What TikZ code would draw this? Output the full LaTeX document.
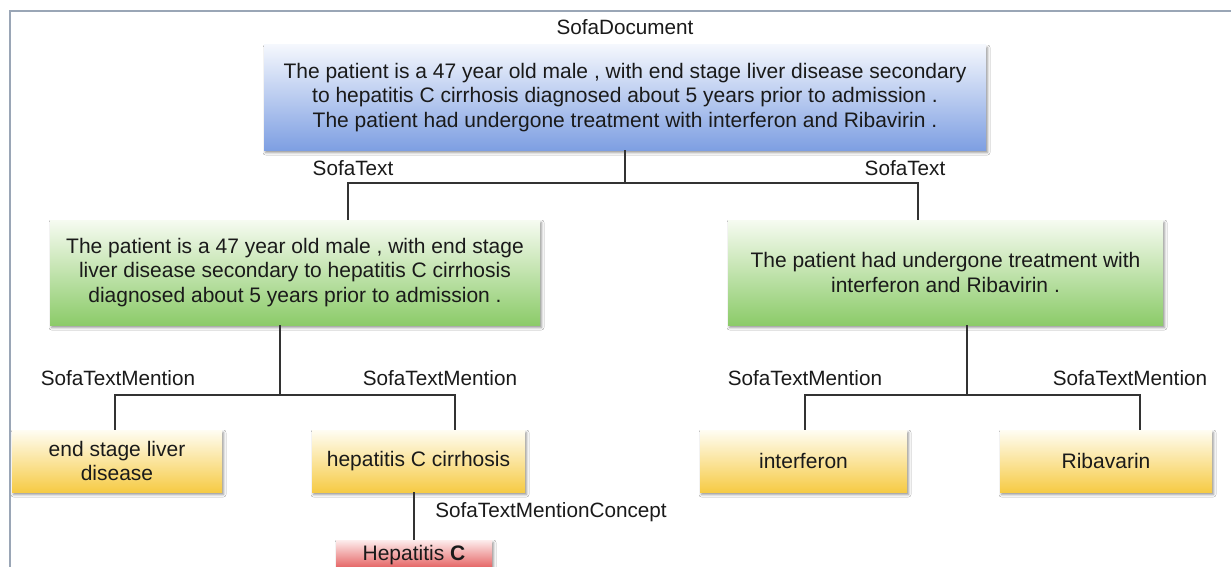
\documentclass[tikz,border=0pt]{standalone}
\usepackage{fontspec}
\setmainfont{Liberation Sans}
\usetikzlibrary{shadows.blur}

\definecolor{txt}{HTML}{1A1A1A}
\definecolor{linec}{HTML}{333333}
\definecolor{framec}{HTML}{9AA6B6}
\definecolor{blueT}{HTML}{F4F7FD}
\definecolor{blueM}{HTML}{A9C2EF}
\definecolor{blueB}{HTML}{7E9FE2}
\definecolor{greenT}{HTML}{F6FBF1}
\definecolor{greenM}{HTML}{B7DF9E}
\definecolor{greenB}{HTML}{8CCB69}
\definecolor{yelT}{HTML}{FFFDF3}
\definecolor{yelM}{HTML}{FCE9A2}
\definecolor{yelB}{HTML}{F6CB45}
\definecolor{redT}{HTML}{FDEDED}
\definecolor{redM}{HTML}{F3A8A8}
\definecolor{redB}{HTML}{E35858}

\tikzset{
  box/.style={rectangle, inner sep=0pt, align=center, text=txt,
    font=\fontsize{21}{24.5}\selectfont,
    blur shadow={shadow xshift=1.5pt, shadow yshift=-2.5pt,
      shadow blur radius=2.5pt, shadow opacity=45}},
  docbox/.style={box, top color=blueT, middle color=blueM, bottom color=blueB},
  textbox/.style={box, top color=greenT, middle color=greenM, bottom color=greenB},
  mentionbox/.style={box, top color=yelT, middle color=yelM, bottom color=yelB},
  conceptbox/.style={box, top color=redT, middle color=redM, bottom color=redB},
  rel/.style={text=txt, font=\fontsize{20.7}{24.5}\selectfont, inner sep=0pt},
  conn/.style={draw=linec, line width=2pt}
}

\begin{document}
\begin{tikzpicture}[x=1pt, y=-1pt]
\useasboundingbox (0,0) rectangle (1231,567);
\clip (0,0) rectangle (1231,567);
\fill[white] (0,0) rectangle (1231,567);

% outer frame (top and left edges)
\draw[framec, line width=2.2pt] (10,580) -- (10,11) -- (1240,11);

% document
\node[rel] (lDoc) at (625,27) {SofaDocument};
\node[docbox, minimum width=722, minimum height=105] (doc) at (625,97.5)
  {The patient is a 47 year old male , with end stage liver disease secondary\\
   to hepatitis C cirrhosis diagnosed about 5 years prior to admission .\\
   The patient had undergone treatment with interferon and Ribavirin .};

% sentences
\node[textbox, minimum width=490, minimum height=105] (lg) at (295,272.5)
  {The patient is a 47 year old male , with end stage\\
   liver disease secondary to hepatitis C cirrhosis\\
   diagnosed about 5 years prior to admission .};
\node[textbox, minimum width=435, minimum height=105] (rg) at (945.5,272.5)
  {The patient had undergone treatment with\\
   interferon and Ribavirin .};

% mentions
\node[mentionbox, minimum width=210, minimum height=62] (m1) at (117,461)
  {end stage liver\\disease};
\node[mentionbox, minimum width=213, minimum height=62] (m2) at (418.5,461)
  {hepatitis C cirrhosis};
\node[mentionbox, minimum width=207, minimum height=62] (m3) at (803.5,461)
  {interferon};
\node[mentionbox, minimum width=212, minimum height=62] (m4) at (1106,461)
  {Ribavarin};

% concept
\node[conceptbox, minimum width=156, minimum height=30] (c1) at (414,555)
  {Hepatitis \textbf{C}};

% relation labels
\node[rel] (lT1) at (353,168) {SofaText};
\node[rel] (lT2) at (905,168) {SofaText};
\node[rel] (lM1) at (118,378) {SofaTextMention};
\node[rel] (lM2) at (440,378) {SofaTextMention};
\node[rel] (lM3) at (805,378) {SofaTextMention};
\node[rel] (lM4) at (1130,378) {SofaTextMention};
\node[rel] (lC1) at (551,512) {SofaTextMentionConcept};

% connectors
\coordinate (j0) at (625,183);
\coordinate (j1) at (280,395);
\coordinate (j2) at (967,395);
\draw[conn] (doc.south) -- (j0);
\draw[conn] ([xshift=53pt]lg.north) |- (j0) -| ([xshift=-27.5pt]rg.north);
\draw[conn] ([xshift=-15pt]lg.south) -- (j1);
\draw[conn] ([xshift=-2pt]m1.north) |- (j1) -| ([xshift=36.5pt]m2.north);
\draw[conn] ([xshift=21.5pt]rg.south) -- (j2);
\draw[conn] ([xshift=1.5pt]m3.north) |- (j2) -| ([xshift=34pt]m4.north);
\draw[conn] (m2.south -| c1.north) -- (c1.north);
\end{tikzpicture}
\end{document}
